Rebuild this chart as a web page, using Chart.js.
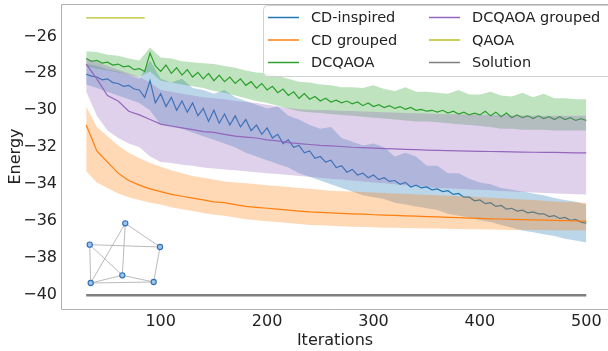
<!DOCTYPE html>
<html lang="en">
<head>
    <meta charset="UTF-8">
    <title>Energy vs iterations</title>
    <script src="https://cdn.jsdelivr.net/npm/chart.js"></script>
    <style>
        html, body { margin: 0; padding: 0; background: #fff; }
        canvas { display: block; }
    </style>
</head>
<body>
    <canvas id="energyChart" width="608" height="351"></canvas>

    <script>
        // iteration grids the curves were read at
        const iters5 = [30,35,40,45,50,55,60,65,70,75,80,85,90,95,100,105,110,115,120,125,130,135,140,145,150,155,160,165,170,175,
            180,185,190,195,200,205,210,215,220,225,230,235,240,245,250,255,260,265,270,275,280,285,290,295,300,305,310,315,320,325,
            330,335,340,345,350,355,360,365,370,375,380,385,390,395,400,405,410,415,420,425,430,435,440,445,450,455,460,465,470,475,
            480,485,490,495,500];
        const iters10 = [30,40,50,60,70,80,90,100,110,120,130,140,150,160,170,180,190,200,210,220,230,240,250,260,270,280,290,300,
            310,320,330,340,350,360,370,380,390,400,410,420,430,440,450,460,470,480,490,500];

        // CD-inspired (noisy mean on iters5, band on iters10)
        const cdMean = [-28.05,-28.15,-28.2,-28.35,-28.3,-28.5,-28.55,-28.7,-28.65,-28.85,
            -28.9,-29.3,-28.4,-29.6,-29.1,-29.8,-29.3,-30.0,-29.5,-30.1,
            -29.6,-30.3,-29.9,-30.6,-30.0,-30.7,-30.2,-30.8,-30.3,-30.9,
            -30.5,-31.1,-30.8,-31.3,-30.95,-31.5,-31.3,-31.8,-31.6,-32.0,
            -31.9,-32.3,-32.2,-32.6,-32.5,-32.8,-32.7,-33.1,-33.0,-33.35,
            -33.2,-33.5,-33.4,-33.65,-33.5,-33.75,-33.65,-33.85,-33.8,-34.0,
            -33.9,-34.15,-34.05,-34.2,-34.15,-34.3,-34.25,-34.4,-34.35,-34.55,
            -34.5,-34.7,-34.7,-34.9,-34.85,-35.05,-35.0,-35.2,-35.15,-35.35,
            -35.3,-35.45,-35.4,-35.55,-35.5,-35.6,-35.6,-35.75,-35.7,-35.85,
            -35.8,-35.95,-35.9,-36.05,-36.1];
        const cdLow = [-28.6,-28.8,-29.0,-29.2,-29.4,-29.6,-30.0,-30.8,-30.9,-31.0,-31.2,-31.4,-31.6,-31.8,-32.0,-32.3,
            -32.5,-32.7,-32.9,-33.1,-33.4,-33.6,-33.8,-34.0,-34.2,-34.4,-34.6,-34.7,-34.8,-35.0,-35.1,-35.2,
            -35.3,-35.4,-35.6,-35.7,-35.8,-35.95,-36.05,-36.2,-36.35,-36.5,-36.6,-36.7,-36.8,-36.95,-37.05,-37.15];
        const cdHigh = [-27.5,-27.6,-27.8,-27.9,-28.1,-28.3,-27.3,-28.3,-28.5,-28.3,-28.8,-28.9,-29.1,-28.9,-29.3,-29.5,
            -29.7,-29.9,-29.8,-30.3,-30.5,-30.8,-31.0,-30.9,-31.5,-31.7,-31.9,-31.8,-32.0,-32.5,-32.3,-32.5,
            -33.0,-33.0,-33.4,-33.4,-33.7,-33.9,-34.0,-34.2,-34.3,-34.4,-34.5,-34.6,-34.75,-34.85,-34.95,-35.1];

        // CD grouped (iters10)
        const cdgMean = [-30.8,-32.2,-32.8,-33.4,-33.8,-34.05,-34.25,-34.4,-34.55,-34.65,-34.75,-34.85,-34.95,-35.0,-35.1,-35.2,
            -35.25,-35.3,-35.35,-35.4,-35.45,-35.5,-35.52,-35.55,-35.58,-35.6,-35.62,-35.65,-35.67,-35.69,-35.71,-35.73,
            -35.75,-35.77,-35.79,-35.81,-35.83,-35.85,-35.87,-35.88,-35.9,-35.91,-35.93,-35.94,-35.96,-35.97,-35.99,-36.0];
        const cdgLow = [-33.3,-33.9,-34.2,-34.5,-34.7,-34.85,-35.0,-35.1,-35.25,-35.35,-35.45,-35.55,-35.65,-35.7,-35.8,-35.9,
            -35.95,-36.0,-36.05,-36.1,-36.15,-36.2,-36.22,-36.25,-36.28,-36.3,-36.32,-36.33,-36.35,-36.36,-36.37,-36.38,
            -36.39,-36.4,-36.41,-36.42,-36.43,-36.44,-36.45,-36.46,-36.47,-36.48,-36.48,-36.49,-36.49,-36.5,-36.5,-36.5];
        const cdgHigh = [-29.8,-30.9,-31.4,-31.9,-32.3,-32.6,-32.85,-33.05,-33.25,-33.4,-33.55,-33.65,-33.75,-33.85,-33.9,-33.95,
            -34.0,-34.05,-34.1,-34.15,-34.2,-34.25,-34.3,-34.35,-34.38,-34.4,-34.42,-34.45,-34.48,-34.5,-34.52,-34.55,
            -34.57,-34.6,-34.62,-34.65,-34.67,-34.7,-34.73,-34.76,-34.8,-34.83,-34.86,-34.9,-34.93,-34.96,-34.98,-35.0];

        // DCQAOA (noisy mean on iters5, band on iters10)
        const dcMean = [-27.2,-27.35,-27.3,-27.45,-27.4,-27.55,-27.5,-27.65,-27.6,-27.8,
            -27.75,-27.9,-26.9,-27.6,-27.9,-27.55,-28.0,-27.7,-28.1,-27.8,
            -28.2,-27.95,-28.3,-28.0,-28.4,-28.1,-28.45,-28.2,-28.55,-28.3,
            -28.65,-28.45,-28.8,-28.55,-28.9,-28.7,-29.05,-28.85,-29.2,-29.0,
            -29.35,-29.1,-29.4,-29.25,-29.5,-29.35,-29.55,-29.45,-29.6,-29.5,
            -29.65,-29.55,-29.75,-29.6,-29.8,-29.7,-29.85,-29.75,-29.9,-29.8,
            -29.95,-29.85,-30.0,-29.95,-30.05,-30.0,-30.1,-30.0,-30.15,-30.05,
            -30.2,-30.1,-30.25,-30.15,-30.25,-30.05,-30.3,-30.1,-30.35,-30.15,
            -30.4,-30.25,-30.4,-30.3,-30.45,-30.3,-30.45,-30.35,-30.5,-30.35,
            -30.5,-30.4,-30.55,-30.45,-30.55];
        const dcLow = [-27.6,-27.75,-27.85,-27.95,-28.1,-28.2,-27.9,-28.4,-28.5,-28.6,-28.7,-28.8,-28.95,-29.05,-29.2,-29.35,
            -29.5,-29.6,-29.75,-29.9,-30.05,-30.1,-30.15,-30.2,-30.25,-30.3,-30.35,-30.4,-30.45,-30.5,-30.55,-30.6,
            -30.6,-30.65,-30.7,-30.75,-30.8,-30.85,-30.9,-31.0,-31.0,-31.05,-31.05,-31.05,-31.1,-31.1,-31.1,-31.1];
        const dcHigh = [-26.8,-26.85,-27.0,-27.05,-27.2,-27.3,-26.6,-27.15,-27.2,-27.35,-27.4,-27.45,-27.5,-27.6,-27.7,-27.85,
            -27.95,-28.0,-28.15,-28.3,-28.45,-28.5,-28.6,-28.65,-28.75,-28.75,-28.8,-28.65,-28.85,-28.95,-28.75,-29.0,
            -29.0,-29.05,-29.1,-28.9,-29.15,-29.15,-29.0,-29.2,-29.25,-29.05,-29.3,-29.1,-29.35,-29.35,-29.4,-29.4];

        // DCQAOA grouped (iters10)
        const dcgMean = [-27.5,-28.3,-29.2,-29.5,-30.05,-30.25,-30.5,-30.75,-30.85,-30.95,-31.05,-31.15,-31.2,-31.3,-31.4,-31.45,
            -31.5,-31.6,-31.65,-31.75,-31.8,-31.85,-31.9,-31.93,-31.96,-32.0,-32.02,-32.05,-32.07,-32.09,-32.11,-32.13,
            -32.15,-32.17,-32.18,-32.2,-32.21,-32.22,-32.23,-32.24,-32.25,-32.26,-32.27,-32.28,-32.28,-32.29,-32.3,-32.3];
        const dcgLow = [-29.0,-30.3,-31.1,-31.5,-31.8,-32.0,-32.5,-32.8,-32.85,-32.95,-33.0,-33.1,-33.15,-33.2,-33.25,-33.3,
            -33.35,-33.4,-33.45,-33.5,-33.55,-33.6,-33.65,-33.7,-33.75,-33.8,-33.85,-33.9,-33.95,-34.0,-34.05,-34.1,
            -34.15,-34.2,-34.22,-34.25,-34.28,-34.3,-34.33,-34.36,-34.39,-34.42,-34.45,-34.47,-34.5,-34.52,-34.54,-34.55];
        const dcgHigh = [-27.2,-27.4,-27.6,-27.8,-28.0,-28.2,-28.5,-28.9,-29.0,-29.1,-29.2,-29.3,-29.35,-29.4,-29.5,-29.55,
            -29.6,-29.7,-29.8,-29.88,-29.95,-29.97,-29.98,-30.0,-30.02,-30.04,-30.06,-30.08,-30.1,-30.12,-30.14,-30.16,
            -30.18,-30.2,-30.21,-30.22,-30.23,-30.24,-30.25,-30.26,-30.27,-30.28,-30.29,-30.3,-30.3,-30.3,-30.3,-30.3];

        // QAOA and the exact solution
        const qaoaIters = [30, 85];
        const qaoaEnergy = [-25, -25];
        const solutionIters = [30, 500];
        const solutionEnergy = [-40, -40];

        // problem graph shown in the inset (layout units)
        const graphNodes = [[0.506, 1.0], [0.0, 0.642], [1.0, 0.603], [0.464, 0.129], [0.014, 0.0], [0.91, 0.017]];
        const graphEdges = [[0, 2], [0, 4], [0, 3], [1, 2], [1, 3], [1, 4], [2, 5], [3, 4], [3, 5], [4, 5]];

        const xTicks = [100, 200, 300, 400, 500];
        const yTicks = [-40, -38, -36, -34, -32, -30, -28, -26];

        const legendLabels = ['CD-inspired', 'CD grouped', 'DCQAOA', 'DCQAOA grouped', 'QAOA', 'Solution'];
        const legendColors = ['#1f77b4', '#ff7f0e', '#2ca02c', '#9467bd', '#bcbd22', '#7f7f7f'];

        // layout of the figure in pixels
        const plotBox = { left: 62, top: 4, right: 608, bottom: 309 };
        const insetBox = { left: 89.7, top: 223.3, right: 160, bottom: 283 };
        const FONT = "'DejaVu Sans', sans-serif";

        function pts(xs, ys) {
            return xs.map((x, i) => ({ x: x, y: ys[i] }));
        }

        const datasets = [];
        function addSeries(xs, mean, bx, low, high, color, fillColor) {
            datasets.push({ data: pts(xs, mean), borderColor: color, borderWidth: 1.2, pointRadius: 0, fill: false });
            if (low) {
                datasets.push({ data: pts(bx, low), borderWidth: 0, pointRadius: 0, fill: false });
                datasets.push({ data: pts(bx, high), borderWidth: 0, pointRadius: 0, fill: '-1', backgroundColor: fillColor });
            }
        }
        addSeries(iters5, cdMean, iters10, cdLow, cdHigh, '#1f77b4', 'rgba(31,119,180,0.3)');
        addSeries(iters10, cdgMean, iters10, cdgLow, cdgHigh, '#ff7f0e', 'rgba(255,127,14,0.3)');
        addSeries(iters5, dcMean, iters10, dcLow, dcHigh, '#2ca02c', 'rgba(44,160,44,0.3)');
        addSeries(iters10, dcgMean, iters10, dcgLow, dcgHigh, '#9467bd', 'rgba(148,103,189,0.3)');
        addSeries(qaoaIters, qaoaEnergy, null, null, null, '#bcbd22');
        datasets.push({ data: pts(solutionIters, solutionEnergy), borderColor: '#7f7f7f', borderWidth: 2.5, pointRadius: 0, fill: false });

        // inset graph on its own hidden scales
        graphEdges.forEach(e => {
            datasets.push({
                data: [e[0], e[1]].map(n => ({ x: graphNodes[n][0], y: graphNodes[n][1] })),
                xAxisID: 'gx', yAxisID: 'gy',
                borderColor: '#a8a8a8', borderWidth: 0.8, pointRadius: 0, fill: false
            });
        });
        datasets.push({
            data: graphNodes.map(p => ({ x: p[0], y: p[1] })),
            xAxisID: 'gx', yAxisID: 'gy', showLine: false,
            pointRadius: 2.6, pointBackgroundColor: '#9ec4ec', pointBorderColor: '#2f6db5', pointBorderWidth: 1.1
        });

        // matplotlib order: later series on top
        datasets.forEach((d, i) => { d.order = datasets.length - i; });

        const gxUnit = insetBox.right - insetBox.left;
        const gyUnit = insetBox.bottom - insetBox.top;

        function noPadding(s) {
            s.paddingLeft = 0; s.paddingRight = 0; s.paddingTop = 0; s.paddingBottom = 0;
        }

        const frameAndLegend = {
            id: 'frameAndLegend',
            afterDraw(chart) {
                const ctx = chart.ctx;
                const a = chart.chartArea;
                ctx.save();
                ctx.strokeStyle = '#b0b0b0';
                ctx.lineWidth = 1;
                ctx.beginPath();
                ctx.moveTo(a.left - 0.5, a.bottom + 0.5);
                ctx.lineTo(a.left - 0.5, a.top + 0.5);
                ctx.lineTo(a.right, a.top + 0.5);
                ctx.moveTo(a.left - 0.5, a.bottom + 0.5);
                ctx.lineTo(a.right, a.bottom + 0.5);
                ctx.stroke();

                // legend, two columns
                ctx.beginPath();
                ctx.roundRect(263.5, 5.5, 360, 71, 4);
                ctx.fillStyle = 'rgba(255,255,255,0.8)';
                ctx.fill();
                ctx.strokeStyle = '#d0d0d0';
                ctx.stroke();
                const rows = [17.5, 40, 62.5];
                const cols = [268, 429];
                ctx.font = '14.5px ' + FONT;
                ctx.textBaseline = 'middle';
                legendLabels.forEach((label, i) => {
                    const cx = cols[Math.floor(i / 3)];
                    const cy = rows[i % 3];
                    ctx.strokeStyle = legendColors[i];
                    ctx.lineWidth = 1.5;
                    ctx.beginPath();
                    ctx.moveTo(cx, cy);
                    ctx.lineTo(cx + 31, cy);
                    ctx.stroke();
                    ctx.fillStyle = '#222';
                    ctx.fillText(label, cx + 43, cy + 1);
                });
                ctx.restore();
            }
        };

        new Chart(document.getElementById('energyChart'), {
            type: 'line',
            data: { datasets: datasets },
            options: {
                responsive: false,
                animation: false,
                devicePixelRatio: 1,
                layout: { autoPadding: false, padding: { top: plotBox.top, right: 0, bottom: 0, left: 0 } },
                plugins: { legend: { display: false }, tooltip: { enabled: false } },
                elements: { line: { tension: 0 } },
                scales: {
                    x: {
                        type: 'linear',
                        min: 7.26, max: 520.4,
                        grid: { display: false, drawTicks: false },
                        border: { display: false },
                        afterBuildTicks: s => { s.ticks = xTicks.map(v => ({ value: v })); },
                        afterFit: s => { s.height = 351 - plotBox.bottom; noPadding(s); },
                        ticks: { color: '#222', padding: 3, maxRotation: 0, font: { family: FONT, size: 16 } },
                        title: { display: true, text: 'Iterations', color: '#222', padding: { top: 0, bottom: 1 }, font: { family: FONT, size: 16 } }
                    },
                    y: {
                        min: -40.75, max: -24.25,
                        grid: { display: false, drawTicks: false },
                        border: { display: false },
                        afterBuildTicks: s => { s.ticks = yTicks.map(v => ({ value: v })); },
                        afterFit: s => { s.width = plotBox.left; noPadding(s); },
                        ticks: { color: '#222', padding: 5, font: { family: FONT, size: 16 },
                            callback: v => String(v).replace('-', '\u2212') },
                        title: { display: true, text: 'Energy', color: '#222', padding: 6, font: { family: FONT, size: 16 } }
                    },
                    gx: {
                        type: 'linear', display: false, position: 'bottom',
                        min: -(insetBox.left - plotBox.left) / gxUnit,
                        max: (plotBox.right - insetBox.left) / gxUnit,
                        ticks: { display: false },
                        afterFit: s => { s.height = 0; noPadding(s); }
                    },
                    gy: {
                        type: 'linear', display: false, position: 'left',
                        min: -(plotBox.bottom - insetBox.bottom) / gyUnit,
                        max: (insetBox.bottom - plotBox.top) / gyUnit,
                        ticks: { display: false },
                        afterFit: s => { s.width = 0; noPadding(s); }
                    }
                }
            },
            plugins: [frameAndLegend]
        });
    </script>
</body>
</html>
